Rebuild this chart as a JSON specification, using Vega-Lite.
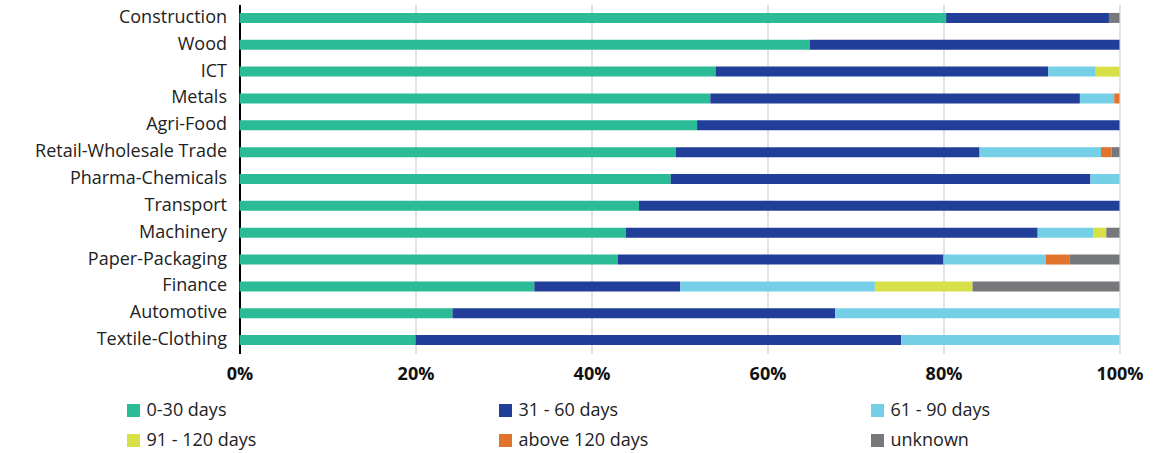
{
  "$schema": "https://vega.github.io/schema/vega-lite/v6.json",
  "width": 880,
  "height": 349,
  "autosize": {"type": "none"},
  "padding": {"left": 239.5, "top": 4.5, "right": 37.5, "bottom": 99.5},
  "background": "white",
  "config": {
    "view": {"stroke": null},
    "font": "Open Sans"
  },
  "data": {
    "values": [
      {"sector": "Construction", "cat": "0-30 days", "o": 1, "v": 80.3},
      {"sector": "Construction", "cat": "31 - 60 days", "o": 2, "v": 18.5},
      {"sector": "Construction", "cat": "unknown", "o": 6, "v": 1.2},
      {"sector": "Wood", "cat": "0-30 days", "o": 1, "v": 64.8},
      {"sector": "Wood", "cat": "31 - 60 days", "o": 2, "v": 35.2},
      {"sector": "ICT", "cat": "0-30 days", "o": 1, "v": 54.1},
      {"sector": "ICT", "cat": "31 - 60 days", "o": 2, "v": 37.8},
      {"sector": "ICT", "cat": "61 - 90 days", "o": 3, "v": 5.4},
      {"sector": "ICT", "cat": "91 - 120 days", "o": 4, "v": 2.7},
      {"sector": "Metals", "cat": "0-30 days", "o": 1, "v": 53.5},
      {"sector": "Metals", "cat": "31 - 60 days", "o": 2, "v": 42.0},
      {"sector": "Metals", "cat": "61 - 90 days", "o": 3, "v": 3.9},
      {"sector": "Metals", "cat": "above 120 days", "o": 5, "v": 0.6},
      {"sector": "Agri-Food", "cat": "0-30 days", "o": 1, "v": 52.0},
      {"sector": "Agri-Food", "cat": "31 - 60 days", "o": 2, "v": 48.0},
      {"sector": "Retail-Wholesale Trade", "cat": "0-30 days", "o": 1, "v": 49.6},
      {"sector": "Retail-Wholesale Trade", "cat": "31 - 60 days", "o": 2, "v": 34.5},
      {"sector": "Retail-Wholesale Trade", "cat": "61 - 90 days", "o": 3, "v": 13.8},
      {"sector": "Retail-Wholesale Trade", "cat": "above 120 days", "o": 5, "v": 1.2},
      {"sector": "Retail-Wholesale Trade", "cat": "unknown", "o": 6, "v": 0.9},
      {"sector": "Pharma-Chemicals", "cat": "0-30 days", "o": 1, "v": 49.0},
      {"sector": "Pharma-Chemicals", "cat": "31 - 60 days", "o": 2, "v": 47.7},
      {"sector": "Pharma-Chemicals", "cat": "61 - 90 days", "o": 3, "v": 3.3},
      {"sector": "Transport", "cat": "0-30 days", "o": 1, "v": 45.4},
      {"sector": "Transport", "cat": "31 - 60 days", "o": 2, "v": 54.6},
      {"sector": "Machinery", "cat": "0-30 days", "o": 1, "v": 43.9},
      {"sector": "Machinery", "cat": "31 - 60 days", "o": 2, "v": 46.8},
      {"sector": "Machinery", "cat": "61 - 90 days", "o": 3, "v": 6.3},
      {"sector": "Machinery", "cat": "91 - 120 days", "o": 4, "v": 1.5},
      {"sector": "Machinery", "cat": "unknown", "o": 6, "v": 1.5},
      {"sector": "Paper-Packaging", "cat": "0-30 days", "o": 1, "v": 43.0},
      {"sector": "Paper-Packaging", "cat": "31 - 60 days", "o": 2, "v": 37.0},
      {"sector": "Paper-Packaging", "cat": "61 - 90 days", "o": 3, "v": 11.6},
      {"sector": "Paper-Packaging", "cat": "above 120 days", "o": 5, "v": 2.7},
      {"sector": "Paper-Packaging", "cat": "unknown", "o": 6, "v": 5.7},
      {"sector": "Finance", "cat": "0-30 days", "o": 1, "v": 33.5},
      {"sector": "Finance", "cat": "31 - 60 days", "o": 2, "v": 16.6},
      {"sector": "Finance", "cat": "61 - 90 days", "o": 3, "v": 22.1},
      {"sector": "Finance", "cat": "91 - 120 days", "o": 4, "v": 11.1},
      {"sector": "Finance", "cat": "unknown", "o": 6, "v": 16.7},
      {"sector": "Automotive", "cat": "0-30 days", "o": 1, "v": 24.2},
      {"sector": "Automotive", "cat": "31 - 60 days", "o": 2, "v": 43.5},
      {"sector": "Automotive", "cat": "61 - 90 days", "o": 3, "v": 32.3},
      {"sector": "Textile-Clothing", "cat": "0-30 days", "o": 1, "v": 20.0},
      {"sector": "Textile-Clothing", "cat": "31 - 60 days", "o": 2, "v": 55.2},
      {"sector": "Textile-Clothing", "cat": "61 - 90 days", "o": 3, "v": 24.8}
    ]
  },
  "layer": [
    {
      "mark": {"type": "bar", "size": 10},
      "encoding": {
        "y": {
          "field": "sector",
          "type": "nominal",
          "sort": null,
          "title": null,
          "scale": {"paddingInner": 0, "paddingOuter": 0},
          "axis": {
            "domain": true,
            "domainColor": "black",
            "domainWidth": 2,
            "ticks": false,
            "labelFont": "Open Sans",
            "labelFontSize": 18,
            "labelColor": "#222222",
            "labelPadding": 13,
            "labelLimit": 300,
            "grid": false
          }
        },
        "x": {
          "field": "v",
          "type": "quantitative",
          "stack": "normalize",
          "title": null,
          "scale": {"domain": [0, 1], "nice": false},
          "axis": {
            "format": ".0%",
            "values": [0, 0.2, 0.4, 0.6, 0.8, 1],
            "domain": false,
            "ticks": false,
            "grid": true,
            "gridColor": "#d9d9d9",
            "gridWidth": 1.5,
            "labelFont": "Open Sans",
            "labelFontSize": 18,
            "labelFontWeight": "bold",
            "labelColor": "#111111",
            "labelPadding": 12,
            "labelFlush": false
          }
        },
        "order": {"field": "o", "type": "quantitative"},
        "color": {
          "field": "cat",
          "type": "nominal",
          "scale": {
            "domain": ["0-30 days", "31 - 60 days", "61 - 90 days", "91 - 120 days", "above 120 days", "unknown"],
            "range": ["#2BBB96", "#213F98", "#74CFE7", "#D8E048", "#E2732C", "#76787B"]
          },
          "legend": {
            "title": null,
            "orient": "none",
            "direction": "horizontal",
            "legendX": -115,
            "legendY": 397,
            "columns": 3,
            "gridAlign": "all",
            "columnPadding": 220,
            "rowPadding": 12,
            "symbolType": "square",
            "symbolSize": 169,
            "symbolStrokeWidth": 0,
            "labelFont": "Open Sans",
            "labelFontSize": 18,
            "labelColor": "#222222",
            "labelOffset": 4
          }
        }
      }
    }
  ]
}
